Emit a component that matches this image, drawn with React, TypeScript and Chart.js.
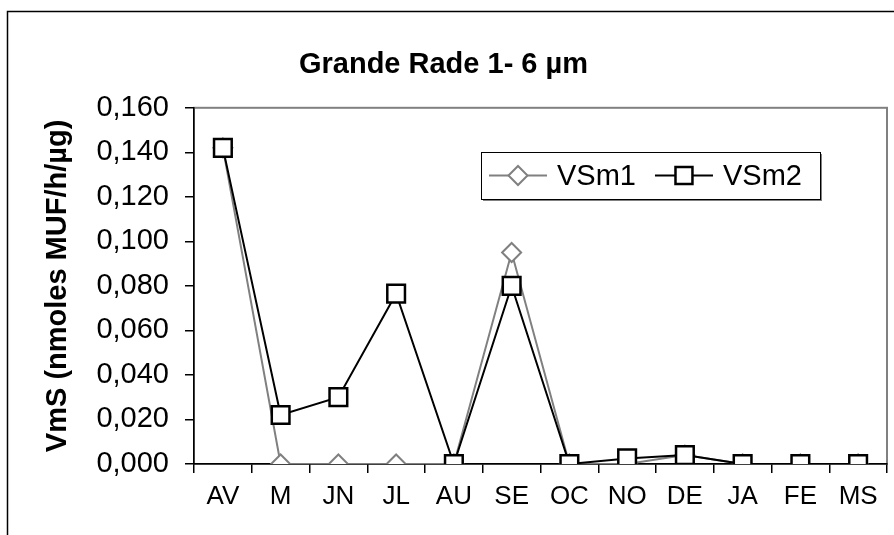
import React, { useEffect, useRef } from 'react';
import { Chart, registerables } from 'chart.js';

Chart.register(...registerables);

const chartTitle = 'Grande Rade 1- 6 µm';
const yAxisTitle = 'VmS (nmoles MUF/h/µg)';
const categories = ['AV', 'M', 'JN', 'JL', 'AU', 'SE', 'OC', 'NO', 'DE', 'JA', 'FE', 'MS'];
const vsm1 = [0.142, 0, 0, 0, 0, 0.095, 0, 0, 0.004, 0, 0, 0];
const vsm2 = [0.142, 0.022, 0.030, 0.0765, 0, 0.080, 0, 0.0025, 0.004, 0, 0, 0];
const seriesNames = ['VSm1', 'VSm2'];
const yMin = 0;
const yMax = 0.16;
const yStep = 0.02;

const FONT = '"Liberation Sans", Arial, sans-serif';
const GRAY = '#808080';
const BLACK = '#000000';

const decorPlugin = {
  id: 'decor',
  beforeDraw(chart: any) {
    const { ctx, chartArea: a } = chart;
    ctx.save();
    ctx.fillStyle = '#ffffff';
    ctx.fillRect(0, 0, chart.width, chart.height);
    // outer frame
    ctx.strokeStyle = BLACK;
    ctx.lineWidth = 1.5;
    ctx.beginPath();
    ctx.moveTo(7.5, chart.height + 5);
    ctx.lineTo(7.5, 11.5);
    ctx.lineTo(chart.width + 5, 11.5);
    ctx.stroke();
    // plot area border
    ctx.strokeStyle = GRAY;
    ctx.lineWidth = 2;
    ctx.strokeRect(a.left, a.top, a.right - a.left, a.bottom - a.top);
    ctx.restore();
  },
  afterDraw(chart: any) {
    const { ctx } = chart;
    const x0 = 481, y0 = 152, w = 339, h = 47;
    ctx.save();
    // shadow
    ctx.fillStyle = GRAY;
    ctx.fillRect(x0 + 2, y0 + 2, w, h);
    ctx.fillStyle = '#ffffff';
    ctx.fillRect(x0, y0, w, h);
    ctx.strokeStyle = BLACK;
    ctx.lineWidth = 1;
    ctx.strokeRect(x0 + 0.5, y0 + 0.5, w, h);
    const cy = y0 + h / 2;
    ctx.font = `29px ${FONT}`;
    ctx.textBaseline = 'middle';
    ctx.textAlign = 'left';
    const metas = chart.data.datasets;
    let x = x0 + 8;
    metas.forEach((ds: any) => {
      const lineLen = 58;
      ctx.strokeStyle = ds.borderColor;
      ctx.lineWidth = 2;
      ctx.beginPath();
      ctx.moveTo(x, cy);
      ctx.lineTo(x + lineLen, cy);
      ctx.stroke();
      const style = ds.pointStyle;
      const r = style === 'rect' ? 12 : 9.5;
      ctx.fillStyle = '#ffffff';
      ctx.strokeStyle = ds.pointBorderColor;
      ctx.lineWidth = ds.pointBorderWidth;
      ctx.beginPath();
      const mx = x + lineLen / 2;
      if (style === 'rect') {
        const s = r * Math.SQRT1_2;
        ctx.rect(mx - s, cy - s, 2 * s, 2 * s);
      } else {
        ctx.moveTo(mx - r, cy);
        ctx.lineTo(mx, cy - r);
        ctx.lineTo(mx + r, cy);
        ctx.lineTo(mx, cy + r);
        ctx.closePath();
      }
      ctx.fill();
      ctx.stroke();
      ctx.fillStyle = BLACK;
      ctx.fillText(ds.label, x + lineLen + 10, cy + 1);
      x += lineLen + 10 + ctx.measureText(ds.label).width + 19;
    });
    ctx.restore();
  },
};

export default function App() {
  const ref = useRef<HTMLCanvasElement | null>(null);
  useEffect(() => {
    document.body.style.margin = '0';
    const canvas = ref.current;
    if (!canvas) return;
    const chart = new Chart(canvas, {
      type: 'line',
      data: {
        labels: categories,
        datasets: [
          {
            label: seriesNames[0],
            data: vsm1,
            borderColor: GRAY,
            borderWidth: 2,
            pointStyle: 'rectRot',
            pointRadius: 9.5,
            pointBorderColor: GRAY,
            pointBackgroundColor: '#ffffff',
            pointBorderWidth: 2,
            tension: 0,
            order: 2,
          },
          {
            label: seriesNames[1],
            data: vsm2,
            borderColor: BLACK,
            borderWidth: 2,
            pointStyle: 'rect',
            pointRadius: 12.5,
            pointBorderColor: BLACK,
            pointBackgroundColor: '#ffffff',
            pointBorderWidth: 2.5,
            tension: 0,
            order: 1,
          },
        ],
      },
      options: {
        animation: false,
        responsive: false,
        layout: { autoPadding: false, padding: { top: 0, right: 7, bottom: 0, left: 0 } },
        plugins: {
          legend: { display: false },
          tooltip: { enabled: false },
          title: {
            display: true,
            text: chartTitle,
            color: BLACK,
            font: { family: FONT, size: 29, weight: 'bold' },
            padding: { top: 48, bottom: 25 },
          },
        },
        scales: {
          x: {
            offset: true,
            grid: {
              offset: true,
              drawOnChartArea: false,
              drawTicks: true,
              tickLength: 9,
              color: BLACK,
              lineWidth: 1.5,
            },
            border: { display: true, color: BLACK, width: 1.5 },
            ticks: {
              color: BLACK,
              padding: 8,
              font: { family: FONT, size: 26 },
              maxRotation: 0,
              autoSkip: false,
            },
            afterFit(scale: any) {
              scale.height = 71;
            },
          },
          y: {
            min: yMin,
            max: yMax,
            grid: {
              drawOnChartArea: false,
              drawTicks: true,
              tickLength: 9,
              color: BLACK,
              lineWidth: 1.5,
            },
            border: { display: true, color: BLACK, width: 1.5 },
            ticks: {
              stepSize: yStep,
              color: BLACK,
              padding: 16,
              font: { family: FONT, size: 29 },
              callback: (v: any) => Number(v).toFixed(3).replace('.', ','),
            },
            title: {
              display: true,
              text: yAxisTitle,
              color: BLACK,
              font: { family: FONT, size: 29, weight: 'bold' },
              padding: { top: 41, bottom: 0 },
            },
            afterFit(scale: any) {
              scale.width = 194;
            },
          },
        },
      },
      plugins: [decorPlugin],
    });
    return () => chart.destroy();
  }, []);
  return <canvas ref={ref} width={894} height={535} style={{ display: 'block' }} />;
}
